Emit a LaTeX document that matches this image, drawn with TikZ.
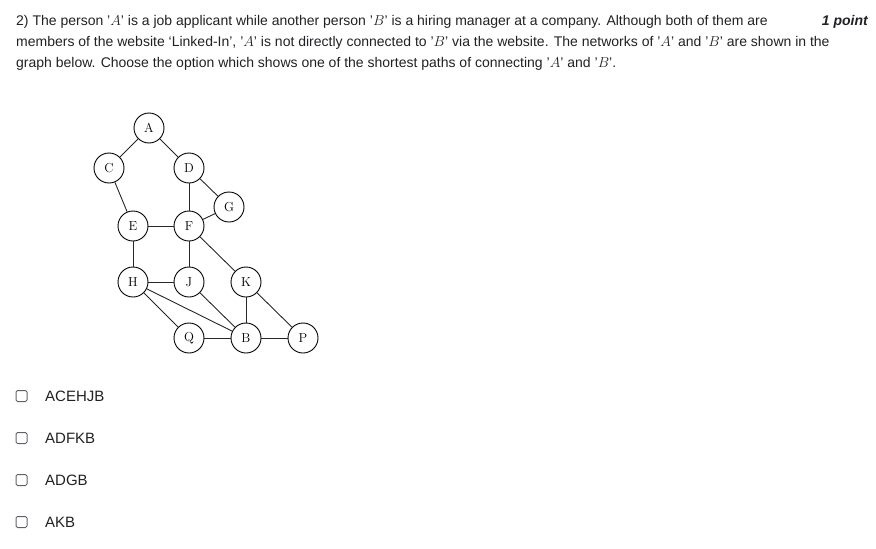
\documentclass[tikz,border=0pt]{standalone}
\usepackage{fontspec}
\setmainfont{Liberation Sans}
\usetikzlibrary{positioning}
\definecolor{formtext}{HTML}{202124}
\definecolor{boxgray}{HTML}{5F6368}

\begin{document}
\begin{tikzpicture}[x=1pt, y=-1pt,
  every node/.style={inner sep=0pt, text=formtext},
  qline/.style={anchor=base west, font=\fontsize{14}{17}\selectfont},
  vertex/.style={circle, draw=black, line width=0.9pt, minimum size=30pt,
    font=\fontfamily{lmr}\fontsize{13}{15}\selectfont, text=black},
  edge/.style={line width=0.9pt, black!85},
  tickbox/.style={draw=boxgray, line width=1pt, rounded corners=1.5pt,
    minimum size=11pt},
  choice/.style={anchor=west, font=\fontsize{15}{18}\selectfont}]
  \useasboundingbox (0,0) rectangle (876,549);

  % question text
  \node[qline] (q1) at (16,25) {2) The person '$A$' is a job applicant while another person '$B$' is a hiring manager at a company. Although both of them are};
  \node[qline] (q2) at (16,46) {members of the website `Linked-In', '$A$' is not directly connected to '$B$' via the website. The networks of '$A$' and '$B$' are shown in the};
  \node[qline] (q3) at (16,67) {graph below. Choose the option which shows one of the shortest paths of connecting '$A$' and '$B$'.};
  \node[anchor=base east, font=\fontsize{14}{17}\selectfont\bfseries\itshape] (pts) at (868,25) {1 point};

  % graph vertices
  \foreach \n/\x/\y in {A/149/128, C/109/168, D/189/168, G/229/207, E/133/226,
      F/189/226, H/133/282, J/189/282, K/246/282, Q/189/338, B/246/338, P/303/338}
    \node[vertex] (\n) at (\x,\y) {\n};

  % graph edges
  \foreach \a/\b in {A/C, A/D, C/E, D/F, D/G, G/F, E/F, E/H, F/J, F/K,
      H/J, H/B, H/Q, J/B, K/B, K/P, Q/B, B/P}
    \draw[edge] (\a) -- (\b);

  % answer options
  \foreach \i/\opt in {0/ACEHJB, 1/ADFKB, 2/ADGB, 3/AKB} {
    \node[tickbox] (box\i) at (21.5,396+\i*42) {};
    \node[choice] (opt\i) at (45,396+\i*42) {\opt};
  }
\end{tikzpicture}
\end{document}
